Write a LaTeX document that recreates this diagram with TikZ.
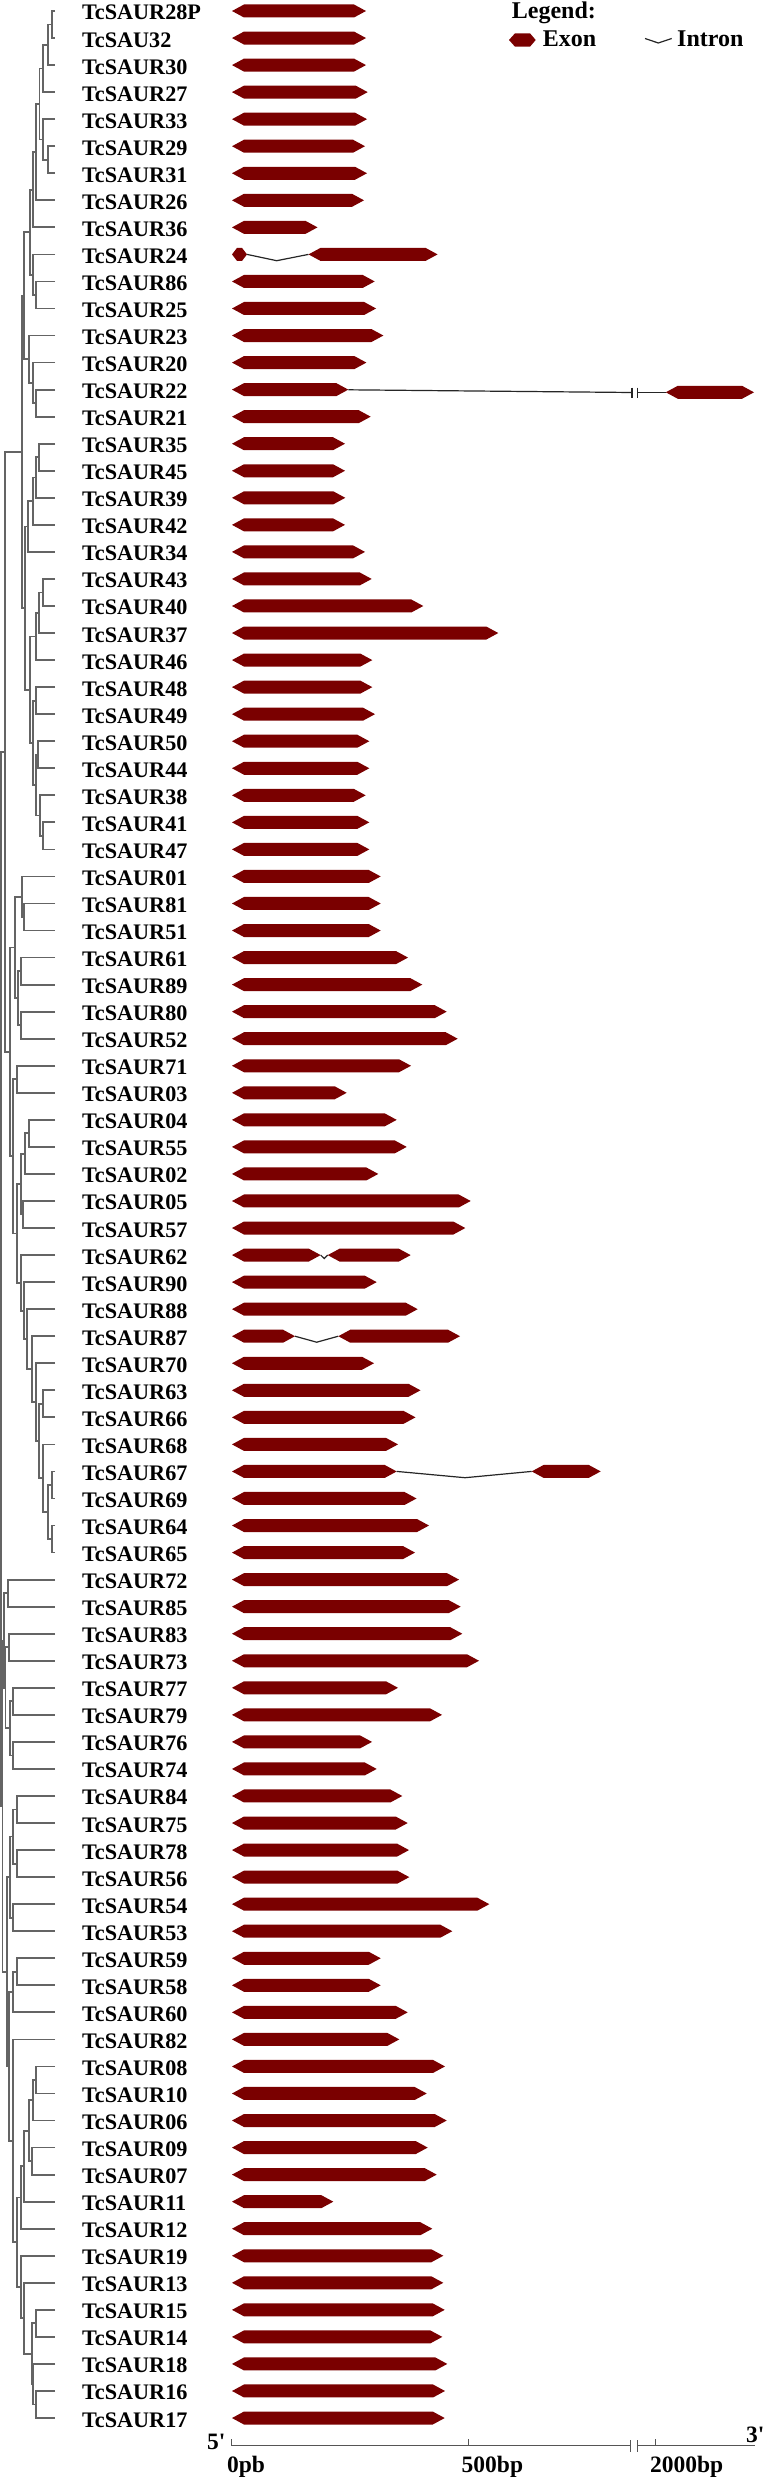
\documentclass[tikz,border=0pt]{standalone}
\usepackage{fontspec}
\setmainfont{Liberation Serif}
\usetikzlibrary{calc}
\definecolor{exonred}{RGB}{122,0,0}
\definecolor{treegray}{RGB}{100,100,100}
\definecolor{axisgray}{RGB}{85,85,85}
\newcommand\exon[3]{%
  \pgfmathsetmacro\exT{min(12,(#2-#1)/3)}%
  \fill[exonred] (#1,#3) -- ({#1+\exT},{#3-6.5}) -- ({#2-\exT},{#3-6.5}) -- (#2,#3) -- ({#2-\exT},{#3+6.5}) -- ({#1+\exT},{#3+6.5}) -- cycle;%
}
\newcommand\clade[4]{%
  \path let \p1=($(#3)!0.5!(#4)$) in coordinate (#1) at (#2pt,\y1);%
  \draw[branch] (#3) -| (#1) |- (#4);%
}
\begin{document}
\begin{tikzpicture}[x=1pt,y=-1pt,
  branch/.style={draw=treegray,line width=1.8pt},
  intron/.style={draw=black!85,line width=1.2pt},
  axisline/.style={draw=axisgray,line width=1.4pt},
  lab/.style={anchor=base west,inner sep=0pt,font=\bfseries\fontsize{22.2}{26}\selectfont},
  leg/.style={anchor=base west,inner sep=0pt,font=\bfseries\fontsize{24}{28}\selectfont},
  axlab/.style={anchor=base west,inner sep=0pt,font=\bfseries\fontsize{23.5}{28}\selectfont}]
\useasboundingbox (0,0) rectangle (767,2480);
\fill[white] (0,0) rectangle (767,2480);
% rows: labels, leaves, first exons
\foreach \nm/\xe [count=\i] in {TcSAUR28P/366,TcSAU32/366,TcSAUR30/366,TcSAUR27/367.7,TcSAUR33/367,TcSAUR29/365,TcSAUR31/367,TcSAUR26/364,TcSAUR36/317.5,TcSAUR24/247,
TcSAUR86/374.7,TcSAUR25/376.1,TcSAUR23/383.4,TcSAUR20/366.4,TcSAUR22/348.3,TcSAUR21/370.7,TcSAUR35/345,TcSAUR45/345,TcSAUR39/345.3,TcSAUR42/345,
TcSAUR34/365,TcSAUR43/371.7,TcSAUR40/423.3,TcSAUR37/498.3,TcSAUR46/372.3,TcSAUR48/372.3,TcSAUR49/375,TcSAUR50/369.3,TcSAUR44/369.3,TcSAUR38/365.7,
TcSAUR41/369.3,TcSAUR47/369.3,TcSAUR01/380.7,TcSAUR81/380.7,TcSAUR51/380.7,TcSAUR61/408,TcSAUR89/422.3,TcSAUR80/446.7,TcSAUR52/457.7,TcSAUR71/411,
TcSAUR03/346.7,TcSAUR04/396.7,TcSAUR55/406.7,TcSAUR02/378.3,TcSAUR05/470.7,TcSAUR57/465.3,TcSAUR62/320.7,TcSAUR90/376.7,TcSAUR88/417.7,TcSAUR87/295,
TcSAUR70/374,TcSAUR63/420.5,TcSAUR66/415.5,TcSAUR68/398,TcSAUR67/396.7,TcSAUR69/416.5,TcSAUR64/429,TcSAUR65/415,TcSAUR72/459,TcSAUR85/460.7,
TcSAUR83/462.3,TcSAUR73/479,TcSAUR77/398,TcSAUR79/442,TcSAUR76/372,TcSAUR74/376.7,TcSAUR84/402.3,TcSAUR75/407.7,TcSAUR78/409,TcSAUR56/409.3,
TcSAUR54/489.3,TcSAUR53/452.3,TcSAUR59/380.7,TcSAUR58/380.7,TcSAUR60/407.7,TcSAUR82/399.3,TcSAUR08/445,TcSAUR10/426.7,TcSAUR06/446.7,TcSAUR09/427.7,
TcSAUR07/436.7,TcSAUR11/333.3,TcSAUR12/432.3,TcSAUR19/443.3,TcSAUR13/443.3,TcSAUR15/444.7,TcSAUR14/442.3,TcSAUR18/447.3,TcSAUR16/445,TcSAUR17/444.7}{
  \pgfmathsetmacro\yy{11+(\i-1)*27.045}
  \node[lab] (g\i) at (82,\yy+9) {\nm};
  \coordinate (L\i) at (55,\yy);
  \exon{232}{\xe}{\yy}
}
% second exons and introns
% TcSAUR24
\draw[intron] (247,254.4) -- (276.7,260.7) -- (308.5,254.4);
\exon{308.5}{437.6}{254.4}
% TcSAUR22
\draw[intron] (348.3,389.8) -- (632,392.5);
\draw[intron] (637.5,392.5) -- (665.8,392.5);
\draw[intron] (632,387.5) -- (632,397.5);
\draw[intron] (637.5,387.5) -- (637.5,397.5);
\exon{665.8}{754}{392.3}
% TcSAUR62
\draw[intron] (320.7,1255.1) -- (324.2,1258.5) -- (327.7,1255.1);
\exon{327.7}{410.7}{1255.1}
% TcSAUR87
\draw[intron] (295,1336.2) -- (316.7,1342.2) -- (338.3,1336.2);
\exon{338.3}{460}{1336.2}
% TcSAUR67
\draw[intron] (396.7,1471.4) -- (465,1477.7) -- (531.7,1471.4);
\exon{531.7}{600.7}{1471.4}
% tree
\clade{a1}{51.7}{L1}{L2}
\clade{a2}{48.3}{a1}{L3}
\clade{a3}{43.3}{a2}{L4}
\clade{a4}{48.3}{L6}{L7}
\clade{a5}{43.3}{L5}{a4}
\clade{a6}{39.5}{a3}{a5}
\clade{a7}{36}{a6}{L8}
\clade{a8}{33}{a7}{L9}
\clade{a9}{36}{L11}{L12}
\clade{a10}{33}{L10}{a9}
\clade{a11}{30}{a8}{a10}
\clade{a12}{36}{L15}{L16}
\clade{a13}{32.7}{L14}{a12}
\clade{a14}{29.3}{L13}{a13}
\clade{a15}{24}{a11}{a14}
\clade{b1}{39.3}{L17}{L18}
\clade{b2}{36}{b1}{L19}
\clade{b3}{32.7}{b2}{L20}
\clade{b4}{28.3}{b3}{L21}
\clade{b5}{43.3}{L22}{L23}
\clade{b6}{39.3}{b5}{L24}
\clade{b7}{36}{b6}{L25}
\clade{b8}{36}{L26}{L27}
\clade{b9}{43.3}{L31}{L32}
\clade{b10}{40}{L30}{b9}
\clade{b11}{38}{L28}{L29}
\clade{b12}{36}{b11}{b10}
\clade{b13}{32.7}{b8}{b12}
\clade{b14}{30}{b7}{b13}
\clade{b15}{25}{b4}{b14}
\clade{c1}{21.7}{a15}{b15}
\clade{d1}{24}{L34}{L35}
\clade{d2}{21.7}{L33}{d1}
\clade{d3}{20.7}{L36}{L37}
\clade{d4}{20.7}{L38}{L39}
\clade{d5}{18.3}{d3}{d4}
\clade{d6}{15}{d2}{d5}
\clade{d7}{17.3}{L40}{L41}
\clade{d8}{29.3}{L42}{L43}
\clade{d9}{25}{d8}{L44}
\clade{f1}{23}{L45}{L46}
\clade{d10}{20.7}{d9}{f1}
\clade{e1}{43.3}{L52}{L53}
\clade{e2}{51.7}{L55}{L56}
\clade{e3}{51.7}{L57}{L58}
\clade{e4}{48.3}{e2}{e3}
\clade{e5}{43.3}{L54}{e4}
\clade{e6}{39.3}{e1}{e5}
\clade{e7}{36}{L51}{e6}
\clade{e8}{31.7}{L50}{e7}
\clade{e9}{27.3}{L49}{e8}
\clade{e10}{24}{L48}{e9}
\clade{e11}{20.7}{L47}{e10}
\clade{d11}{16.7}{d10}{e11}
\clade{g1}{13.3}{d7}{d11}
\clade{g2}{10}{d6}{g1}
\clade{c2}{5}{c1}{g2}
\clade{h1}{8.3}{L59}{L60}
\clade{h2}{9.3}{L61}{L62}
\clade{h3}{13.3}{L63}{L64}
\clade{h4}{13.3}{L65}{L66}
\clade{h5}{10}{h3}{h4}
\clade{h6}{5.5}{h2}{h5}
\clade{h7}{4.3}{h1}{h6}
\clade{h8}{16.7}{L67}{L68}
\clade{h9}{16.7}{L69}{L70}
\clade{h10}{13.3}{h8}{h9}
\clade{h11}{13.3}{L71}{L72}
\clade{h12}{10}{h10}{h11}
\clade{h13}{16.7}{L73}{L74}
\clade{h14}{13.3}{h13}{L75}
\clade{i1}{36}{L77}{L78}
\clade{i2}{32.7}{i1}{L79}
\clade{i3}{31.7}{L80}{L81}
\clade{i4}{29.3}{i2}{i3}
\clade{i5}{24}{i4}{L82}
\clade{i6}{20.7}{i5}{L83}
\clade{i7}{36}{L86}{L87}
\clade{i8}{36}{L89}{L90}
\clade{i9}{32.7}{L88}{i8}
\clade{i10}{31.7}{i7}{i9}
\clade{i11}{24}{L85}{i10}
\clade{i12}{20.7}{L84}{i11}
\clade{i13}{17.3}{i6}{i12}
\clade{i14}{13.3}{L76}{i13}
\clade{i15}{9.3}{h14}{i14}
\clade{i16}{6.7}{h12}{i15}
\clade{i17}{2.5}{h7}{i16}
\clade{root}{1}{c2}{i17}
% legend
\node[leg] (legt) at (511.7,18.5) {Legend:};
\fill[exonred] (509,40) -- (515,33.3) -- (530,33.3) -- (535.7,40) -- (530,46.7) -- (515,46.7) -- cycle;
\node[leg] (lege) at (542.7,47) {Exon};
\draw[intron] (645,38.5) -- (658.3,43) -- (671.7,38.5);
\node[leg] (legi) at (677,47) {Intron};
% axis
\draw[axisline] (231.3,2445.7) -- (630.4,2445.7);
\draw[axisline] (637.5,2445.7) -- (754.7,2445.7);
\draw[axisline] (231.3,2445.7) -- (231.3,2439.3);
\draw[axisline] (468.3,2445.7) -- (468.3,2439.3);
\draw[axisline] (655.5,2445.7) -- (655.5,2439.3);
\draw[axisline] (630.4,2440) -- (630.4,2452);
\draw[axisline] (637.5,2440) -- (637.5,2452);
\node[axlab] (five) at (207,2449) {5\textquotesingle};
\node[axlab] (three) at (746,2442) {3\textquotesingle};
\node[axlab] (t0) at (226.8,2472) {0pb};
\node[axlab] (t500) at (461.5,2472) {500bp};
\node[axlab] (t2000) at (649.9,2472) {2000bp};
\end{tikzpicture}
\end{document}
